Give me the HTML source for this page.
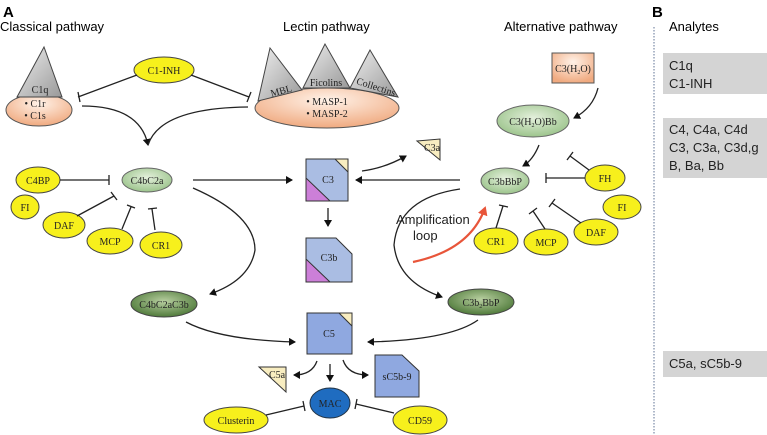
<!DOCTYPE html>
<html><head><meta charset="utf-8"><style>
body{margin:0;background:#fff;width:767px;height:435px;overflow:hidden}
svg{display:block}
.s{font-family:"Liberation Sans",sans-serif}
.t{font-family:"Liberation Serif",serif;font-size:10px;fill:#222;text-anchor:middle}
.y{fill:#f7f01c;stroke:#444;stroke-width:1}
.l{stroke:#222;stroke-width:1.3;fill:none}
</style></head><body>
<svg width="767" height="435" viewBox="0 0 767 435" xmlns="http://www.w3.org/2000/svg">
<defs>
<marker id="a" markerWidth="8" markerHeight="8" refX="6" refY="4" orient="auto" markerUnits="userSpaceOnUse"><path d="M0,0 L7,4 L0,8z" fill="#111"/></marker>
<marker id="r" markerWidth="10" markerHeight="10" refX="7" refY="5" orient="auto" markerUnits="userSpaceOnUse"><path d="M0,0 L9,5 L0,10z" fill="#e8553a"/></marker>
<radialGradient id="lg" cx="50%" cy="40%" r="60%"><stop offset="0" stop-color="#e4f0dc"/><stop offset="1" stop-color="#9cc48c"/></radialGradient>
<radialGradient id="dg" cx="50%" cy="40%" r="60%"><stop offset="0" stop-color="#b8cfa0"/><stop offset="1" stop-color="#4f7a3a"/></radialGradient>
<radialGradient id="pe" cx="50%" cy="30%" r="70%"><stop offset="0" stop-color="#fff2e8"/><stop offset="1" stop-color="#f0aa80"/></radialGradient>
<linearGradient id="gt" x1="0" y1="0" x2="1" y2="1"><stop offset="0" stop-color="#eee"/><stop offset="1" stop-color="#999"/></linearGradient>
</defs>
<g class="s">
<text x="3" y="17" font-size="15" font-weight="bold">A</text>
<text x="0" y="31" font-size="13">Classical pathway</text>
<text x="283" y="31" font-size="13">Lectin pathway</text>
<text x="504" y="31" font-size="13">Alternative pathway</text>
<text x="652" y="17" font-size="15" font-weight="bold">B</text>
<text x="669" y="31" font-size="13">Analytes</text>
</g>
<line x1="654" y1="27" x2="654" y2="435" stroke="#7a8aa6" stroke-width="1.2" stroke-dasharray="1.5,1.5"/>
<rect x="663" y="53" width="104" height="41" fill="#d4d4d4"/>
<rect x="663" y="118" width="104" height="60" fill="#d4d4d4"/>
<rect x="663" y="351" width="104" height="26" fill="#d4d4d4"/>
<g class="s" font-size="13" fill="#222">
<text x="669" y="70">C1q</text><text x="669" y="88">C1-INH</text>
<text x="669" y="134">C4, C4a, C4d</text><text x="669" y="152">C3, C3a, C3d,g</text><text x="669" y="170">B, Ba, Bb</text>
<text x="669" y="368">C5a, sC5b-9</text>
</g>
<!-- classical -->
<ellipse cx="39" cy="110" rx="33" ry="16" fill="url(#pe)" stroke="#555"/>
<path d="M44,47 L17,97 L62,97z" fill="url(#gt)" stroke="#444"/>
<text class="t" x="40" y="93">C1q</text>
<text class="t" x="35" y="107">•  C1r</text><text class="t" x="35" y="119">•  C1s</text>
<!-- lectin -->
<ellipse cx="327" cy="108" rx="72" ry="20" fill="url(#pe)" stroke="#555"/>
<path d="M270,48 L258,101 L302,90z" fill="url(#gt)" stroke="#444"/>
<path d="M325,44 L303,88 L350,88z" fill="url(#gt)" stroke="#444"/>
<path d="M370,50 L350,88 L398,97z" fill="url(#gt)" stroke="#444"/>
<text class="t" x="282" y="94" transform="rotate(-15 282 94)">MBL</text>
<text class="t" x="326" y="86">Ficolins</text>
<text class="t" x="375" y="90" transform="rotate(18 375 90)">Collectins</text>
<text class="t" x="327" y="105">•  MASP-1</text><text class="t" x="327" y="117">•  MASP-2</text>
<!-- C1-INH -->
<ellipse class="y" cx="164" cy="70" rx="30" ry="13"/><text class="t" x="164" y="74">C1-INH</text>
<path class="l" d="M137,75 L78,97 M78,92 L80,102 M191,75 L249,97 M251,92 L247,102"/>
<path class="l" d="M82,106 Q140,106 148,145" marker-end="url(#a)" stroke-width="1.8"/>
<path class="l" d="M248,107 Q160,108 148,145" stroke-width="1.8"/>
<!-- C4bC2a -->
<ellipse cx="147" cy="180" rx="25" ry="12" fill="url(#lg)" stroke="#666"/><text class="t" x="147" y="184">C4bC2a</text>
<ellipse class="y" cx="38" cy="180" rx="22" ry="13"/><text class="t" x="38" y="184">C4BP</text>
<ellipse class="y" cx="25" cy="207" rx="14" ry="12"/><text class="t" x="25" y="211">FI</text>
<ellipse class="y" cx="64" cy="225" rx="21" ry="13"/><text class="t" x="64" y="229">DAF</text>
<ellipse class="y" cx="110" cy="241" rx="23" ry="13"/><text class="t" x="110" y="245">MCP</text>
<ellipse class="y" cx="161" cy="245" rx="21" ry="13"/><text class="t" x="161" y="249">CR1</text>
<path class="l" d="M60,180 L109,180 M109,175 L109,185 M77,216 L114,196 M111,192 L117,200 M122,229 L131,207 M127,205 L135,208 M155,230 L152,209 M148,209 L157,208"/>
<path class="l" d="M193,180 L292,180" marker-end="url(#a)"/>
<!-- C3 -->
<rect x="306" y="159" width="42" height="42" fill="#aabde3" stroke="#333"/>
<path d="M306,178 L306,201 L330,201z" fill="#cc7fd8" stroke="#333"/>
<path d="M335,159 L348,159 L348,172z" fill="#f8edc0" stroke="#333"/>
<text class="t" x="328" y="183">C3</text>
<path class="l" d="M328,208 L328,226" marker-end="url(#a)"/>
<path d="M306,238 L336,238 L352,254 L352,282 L306,282z" fill="#aabde3" stroke="#333"/>
<path d="M306,259 L306,282 L330,282z" fill="#cc7fd8" stroke="#333"/>
<text class="t" x="329" y="261">C3b</text>
<path d="M417,141 L440,139 L440,160z" fill="#f8edc0" stroke="#333"/>
<text class="t" x="432" y="151" font-size="9">C3a</text>
<path class="l" d="M362,171 Q385,168 406,156" marker-end="url(#a)"/>
<path class="l" d="M460,180 L356,180" marker-end="url(#a)"/>
<!-- alternative -->
<rect x="552" y="53" width="42" height="30" fill="url(#pe)" stroke="#555"/>
<text class="t" x="573" y="72" font-size="9">C3(H<tspan font-size="6" dy="2">2</tspan><tspan dy="-2">O)</tspan></text>
<ellipse cx="533" cy="121" rx="36" ry="16" fill="url(#lg)" stroke="#666"/>
<text class="t" x="533" y="125" font-size="9">C3(H<tspan font-size="6" dy="2">2</tspan><tspan dy="-2">O)Bb</tspan></text>
<path class="l" d="M598,88 Q593,108 574,118" marker-end="url(#a)"/>
<ellipse cx="505" cy="181" rx="24" ry="13" fill="url(#lg)" stroke="#666"/><text class="t" x="505" y="185" font-size="9">C3bBbP</text>
<path class="l" d="M539,145 Q533,160 523,166" marker-end="url(#a)"/>
<ellipse class="y" cx="605" cy="178" rx="20" ry="13"/><text class="t" x="605" y="182">FH</text>
<ellipse class="y" cx="622" cy="207" rx="19" ry="12"/><text class="t" x="622" y="211">FI</text>
<ellipse class="y" cx="596" cy="232" rx="22" ry="13"/><text class="t" x="596" y="236">DAF</text>
<ellipse class="y" cx="546" cy="242" rx="22" ry="13"/><text class="t" x="546" y="246">MCP</text>
<ellipse class="y" cx="496" cy="241" rx="22" ry="13"/><text class="t" x="496" y="245">CR1</text>
<path class="l" d="M589,170 L570,156 M567,160 L573,152 M585,178 L546,178 M546,173 L546,183 M581,223 L552,203 M549,207 L555,199 M545,229 L533,211 M529,214 L537,208 M496,228 L503,206 M499,205 L508,207"/>
<!-- big curves -->
<path class="l" d="M193,188 Q255,215 255,250 Q250,280 210,294" marker-end="url(#a)" stroke-width="1.4"/>
<path class="l" d="M460,189 Q398,198 394,245 Q398,282 442,297" marker-end="url(#a)" stroke-width="1.4"/>
<text class="s" x="396" y="224" font-size="13" fill="#222">Amplification</text>
<text class="s" x="413" y="240" font-size="13" fill="#222">loop</text>
<path d="M413,262 Q470,250 485,208" fill="none" stroke="#e8553a" stroke-width="2.2" marker-end="url(#r)"/>
<ellipse cx="164" cy="304" rx="33" ry="13" fill="url(#dg)" stroke="#444"/><text class="t" x="164" y="308" fill="#111">C4bC2aC3b</text>
<ellipse cx="481" cy="302" rx="33" ry="13" fill="url(#dg)" stroke="#444"/><text class="t" x="481" y="306" fill="#111">C3b<tspan font-size="6" dy="2">2</tspan><tspan dy="-2">BbP</tspan></text>
<path class="l" d="M186,322 Q220,340 295,342" marker-end="url(#a)" stroke-width="1.6"/>
<path class="l" d="M478,320 Q450,340 368,342" marker-end="url(#a)" stroke-width="1.6"/>
<!-- C5 -->
<rect x="307" y="313" width="45" height="41" fill="#8fa8e0" stroke="#333"/>
<path d="M339,313 L352,313 L352,326z" fill="#f8edc0" stroke="#333"/>
<text class="t" x="329" y="337">C5</text>
<path d="M259,367 L286,367 L286,392z" fill="#f8edc0" stroke="#333"/>
<text class="t" x="277" y="378" font-size="9">C5a</text>
<path d="M375,355 L402,355 L419,371 L419,397 L375,397z" fill="#8fa8e0" stroke="#333"/>
<text class="t" x="397" y="380">sC5b-9</text>
<path class="l" d="M317,361 Q312,375 294,375" marker-end="url(#a)"/>
<path class="l" d="M330,364 L330,381" marker-end="url(#a)"/>
<path class="l" d="M343,360 Q348,375 368,375" marker-end="url(#a)"/>
<ellipse cx="330" cy="403" rx="20" ry="15" fill="#1f6cc0" stroke="#234"/><text class="t" x="330" y="407" fill="#123">MAC</text>
<ellipse class="y" cx="236" cy="420" rx="32" ry="13"/><text class="t" x="236" y="424" font-size="9.5">Clusterin</text>
<ellipse class="y" cx="420" cy="420" rx="27" ry="14"/><text class="t" x="420" y="424">CD59</text>
<path class="l" d="M266,415 L304,406 M303,401 L305,411 M394,413 L356,404 M357,399 L355,409"/>
</svg>
</body></html>
